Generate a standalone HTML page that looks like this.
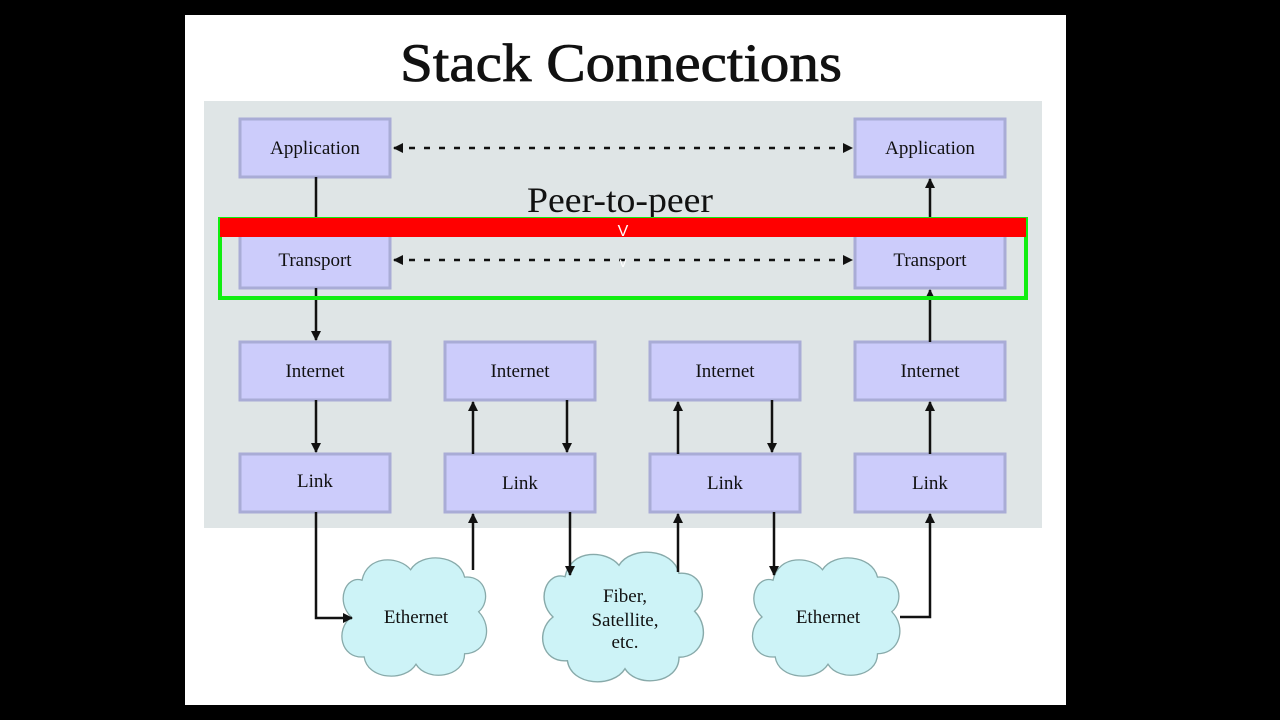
<!DOCTYPE html>
<html><head><meta charset="utf-8"><style>
html,body{margin:0;padding:0;background:#000;}
svg{display:block;}
text{font-family:"Liberation Serif",serif;fill:#111;}
</style></head><body>
<svg width="1280" height="720" viewBox="0 0 1280 720" xmlns="http://www.w3.org/2000/svg">
<defs>
<marker id="a" viewBox="0 0 10 10" refX="9" refY="5" markerWidth="4" markerHeight="4" orient="auto-start-reverse"><path d="M0,0L10,5L0,10z" fill="#111"/></marker>
<g id="cloud"><path d="M-50,-35 C-45,-60 -15,-58 -5,-45 C5,-62 40,-60 45,-38 C65,-40 70,-15 58,-5 C72,10 65,35 45,35 C45,58 10,62 0,45 C-10,62 -45,60 -48,38 C-70,40 -75,12 -60,0 C-75,-15 -65,-40 -50,-35 Z" fill="#cdf3f7" stroke="#8aa" stroke-width="1.2"/></g>
</defs>
<rect x="185" y="15" width="881" height="690" fill="#fff"/>
<text x="621" y="81" font-size="54" text-anchor="middle" textLength="442" lengthAdjust="spacingAndGlyphs" stroke="#111" stroke-width="0.8">Stack Connections</text>
<rect x="204" y="101" width="838" height="427" fill="#dfe5e6"/>
<g fill="#ccccfb" stroke="#a9acd6" stroke-width="3">
<rect x="240" y="119" width="150" height="58"/><rect x="855" y="119" width="150" height="58"/>
<rect x="240" y="230" width="150" height="58"/><rect x="855" y="230" width="150" height="58"/>
<rect x="240" y="342" width="150" height="58"/><rect x="445" y="342" width="150" height="58"/><rect x="650" y="342" width="150" height="58"/><rect x="855" y="342" width="150" height="58"/>
<rect x="240" y="454" width="150" height="58"/><rect x="445" y="454" width="150" height="58"/><rect x="650" y="454" width="150" height="58"/><rect x="855" y="454" width="150" height="58"/>
</g>
<g font-size="19" text-anchor="middle">
<text x="315" y="154">Application</text><text x="930" y="154">Application</text>
<text x="315" y="266">Transport</text><text x="930" y="266">Transport</text>
<text x="315" y="377">Internet</text><text x="520" y="377">Internet</text><text x="725" y="377">Internet</text><text x="930" y="377">Internet</text>
<text x="315" y="487">Link</text><text x="520" y="489">Link</text><text x="725" y="489">Link</text><text x="930" y="489">Link</text>
</g>
<text x="620" y="212" font-size="36" text-anchor="middle" textLength="186" lengthAdjust="spacingAndGlyphs">Peer-to-peer</text>
<use href="#cloud" transform="translate(416,617) scale(1.08,1.05)"/>
<use href="#cloud" transform="translate(625,617) scale(1.2,1.15)"/>
<use href="#cloud" transform="translate(828,617) scale(1.1,1.05)"/>
<g stroke="#111" stroke-width="2.5" fill="none">
<line x1="394" y1="148" x2="852" y2="148" stroke-dasharray="6,9" marker-start="url(#a)" marker-end="url(#a)"/>
<line x1="394" y1="260" x2="852" y2="260" stroke-dasharray="6,9" marker-start="url(#a)" marker-end="url(#a)"/>
<line x1="316" y1="177" x2="316" y2="230"/>
<line x1="316" y1="288" x2="316" y2="340" marker-end="url(#a)"/>
<line x1="316" y1="400" x2="316" y2="452" marker-end="url(#a)"/>
<polyline points="316,512 316,618 352,618" marker-end="url(#a)"/>
<line x1="473" y1="570" x2="473" y2="514" marker-end="url(#a)"/>
<line x1="473" y1="454" x2="473" y2="402" marker-end="url(#a)"/>
<line x1="567" y1="400" x2="567" y2="452" marker-end="url(#a)"/>
<line x1="570" y1="512" x2="570" y2="575" marker-end="url(#a)"/>
<line x1="678" y1="572" x2="678" y2="514" marker-end="url(#a)"/>
<line x1="678" y1="454" x2="678" y2="402" marker-end="url(#a)"/>
<line x1="772" y1="400" x2="772" y2="452" marker-end="url(#a)"/>
<line x1="774" y1="512" x2="774" y2="575" marker-end="url(#a)"/>
<line x1="930" y1="454" x2="930" y2="402" marker-end="url(#a)"/>
<line x1="930" y1="342" x2="930" y2="290" marker-end="url(#a)"/>
<line x1="930" y1="230" x2="930" y2="179" marker-end="url(#a)"/>
<polyline points="900,617 930,617 930,514" marker-end="url(#a)"/>
</g>
<g font-size="19" text-anchor="middle">
<text x="416" y="623">Ethernet</text>
<text x="625" y="602">Fiber,</text><text x="625" y="626">Satellite,</text><text x="625" y="648">etc.</text>
<text x="828" y="623">Ethernet</text>
</g>
<rect x="220" y="219" width="806" height="79" fill="none" stroke="#11ee11" stroke-width="4"/>
<rect x="220" y="218" width="806" height="19" fill="#ff0000"/>
<text x="623" y="236" font-size="16" text-anchor="middle" style="fill:#fff;font-family:'Liberation Sans',sans-serif">V</text>
<text x="623" y="267" font-size="14" text-anchor="middle" style="fill:#fff;font-family:'Liberation Sans',sans-serif">v</text>
</svg>
</body></html>
